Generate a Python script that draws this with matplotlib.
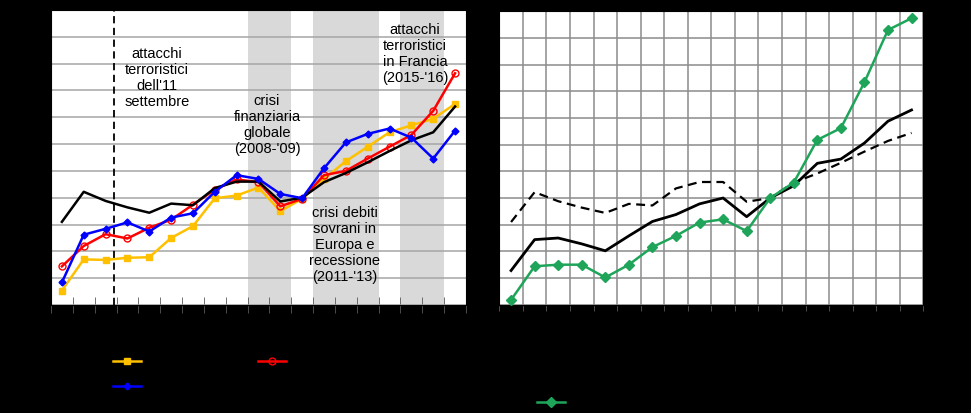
import numpy as np
import matplotlib.pyplot as plt

plt.rcParams['font.family'] = ['Liberation Sans', 'DejaVu Sans']

# data (indices, 2010 = 100)
anni_sx = ["1999", "2000", "2001", "2002", "2003", "2004", "2005", "2006", "2007", "2008",
           "2009", "2010", "2011", "2012", "2013", "2014", "2015", "2016", "2017"]
mondo = [95.5, 101.1, 99.4, 98.2, 97.2, 98.9, 98.6, 101.8, 103.0, 103.0,
         99.3, 100.0, 102.9, 104.6, 106.6, 108.7, 110.7, 112.2, 117.0]
italia = [82.7, 88.5, 88.4, 88.8, 88.9, 92.5, 94.7, 99.9, 100.4, 101.9,
          97.5, 99.8, 103.5, 106.8, 109.5, 112.2, 113.5, 114.7, 117.5]
spagna = [87.2, 91.0, 93.2, 92.4, 94.4, 95.9, 98.7, 101.5, 103.4, 102.9,
          98.4, 99.8, 104.2, 105.0, 107.3, 109.5, 111.7, 116.2, 123.2]
francia = [84.2, 93.1, 94.2, 95.4, 93.7, 96.3, 97.1, 101.1, 104.2, 103.5,
           100.7, 99.9, 105.5, 110.3, 111.9, 112.9, 111.2, 107.3, 112.5]

anni_dx = anni_sx[:18]
totale = [86.4, 92.2, 92.5, 91.4, 90.1, 92.9, 95.6, 96.9, 98.9, 100.0,
          96.5, 100.0, 102.3, 106.5, 107.3, 110.3, 114.4, 116.5]
stranieri = [80.9, 87.2, 87.5, 87.5, 85.1, 87.5, 90.8, 92.9, 95.4, 96.0,
             93.8, 100.0, 102.9, 110.9, 113.1, 121.7, 131.5, 133.7]

# shaded periods and events
crisi = [("2008", "2009"), ("2011", "2013"), ("2015", "2016")]
data_11_settembre = 2001.87

fig = plt.figure(figsize=(9.71, 4.14), dpi=100, facecolor='black')
ax1 = fig.add_axes([0.0525, 0.2609, 0.4274, 0.7126])
ax2 = fig.add_axes([0.5142, 0.2616, 0.4367, 0.7087])

# ---- left panel
x1 = np.arange(len(anni_sx))
for a, b in crisi:
    ax1.axvspan(anni_sx.index(a) - 0.5, anni_sx.index(b) + 0.5, color='#D9D9D9', lw=0, zorder=0.2)
ax1.axvline(data_11_settembre - int(anni_sx[0]) - 0.5, color='black', ls=(0, (4, 2.5)), lw=1.3, zorder=1)

l_it, = ax1.plot(x1, italia, color='#FFC000', lw=1.8, marker='s', ms=4.5, label='Italia', zorder=3)
l_sp, = ax1.plot(x1, spagna, color='#FF0000', lw=1.8, marker='o', ms=5, mfc='none', mew=1,
                 label='Spagna', zorder=3)
l_mo, = ax1.plot(x1, mondo, color='black', lw=1.8, label='Mondo', zorder=3)
l_fr, = ax1.plot(x1, francia, color='#0000FF', lw=1.8, marker='D', ms=3.5, label='Francia', zorder=4)

ax1.set_xlim(-0.5, len(anni_sx) - 0.5)
ax1.set_ylim(80, 135)
ax1.set_yticks(np.arange(80, 136, 5))
ax1.set_xticks(x1)
ax1.set_xticklabels(["'" + a[2:] for a in anni_sx], fontsize=8, color='black')
ax1.set_xticks(np.arange(-0.5, len(anni_sx), 1), minor=True)
ax1.tick_params(axis='x', which='major', length=0)
ax1.tick_params(axis='x', which='minor', direction='inout', length=11, color='#595959')
ax1.tick_params(axis='y', length=0, labelsize=9, labelcolor='black')
ax1.set_axisbelow(True)
ax1.grid(axis='y', color='#A6A6A6', lw=1.1)
for s in ax1.spines.values():
    s.set_color('black')

kw = dict(ha='center', va='center', fontsize=10.5, linespacing=1.18, zorder=5)
ax1.text(4.35, 122.5, "attacchi\nterroristici\ndell'11\nsettembre", **kw)
ax1.text(9.39, 113.8, "crisi\nfinanziaria\nglobale\n(2008-'09)", **kw)
ax1.text(12.96, 91.3, "crisi debiti\nsovrani in\nEuropa e\nrecessione\n(2011-'13)", **kw)
ax1.text(16.17, 126.9, "attacchi\nterroristici\nin Francia\n(2015-'16)", **kw)

# ---- right panel
x2 = np.arange(len(anni_dx))
r_tot, = ax2.plot(x2, totale, color='black', lw=2, label='Italia: presenze totali', zorder=3)
r_mo, = ax2.plot(x2, mondo[:len(anni_dx)], color='black', lw=1.6, ls=(0, (4, 2.5)),
                 label='Mondo: arrivi', zorder=3)
r_st, = ax2.plot(x2, stranieri, color='#1FA55A', lw=1.8, marker='D', ms=5,
                 label='Italia: presenze di stranieri', zorder=4)

ax2.set_xlim(-0.5, len(anni_dx) - 0.5)
ax2.set_ylim(80, 135)
ax2.set_yticks(np.arange(80, 136, 5))
ax2.set_xticks(x2)
ax2.set_xticklabels(["'" + a[2:] for a in anni_dx], fontsize=8, color='black')
ax2.set_xticks(np.arange(-0.5, len(anni_dx), 1), minor=True)
ax2.tick_params(axis='x', which='major', length=0)
ax2.tick_params(axis='x', which='minor', direction='out', length=4, color='#595959')
ax2.tick_params(axis='y', length=0, labelsize=9, labelcolor='black')
ax2.set_axisbelow(True)
ax2.grid(axis='y', color='#8C8C8C', lw=1.1)
ax2.grid(axis='x', which='minor', color='#8C8C8C', lw=1.1)
for s in ax2.spines.values():
    s.set_color('black')

# ---- legends
leg_kw = dict(frameon=False, fontsize=10, borderpad=0, borderaxespad=0, handlelength=2.0,
              labelspacing=0.8, labelcolor='black', loc='center left')
fig.legend(handles=[l_it, l_fr], bbox_to_anchor=(0.1164, 0.0930), **leg_kw)
fig.legend(handles=[l_sp, l_mo], bbox_to_anchor=(0.2657, 0.0930), **leg_kw)
fig.legend(handles=[r_tot, r_mo, r_st], bbox_to_anchor=(0.553, 0.0845), **leg_kw)

plt.savefig("out.png", dpi=100, facecolor='black')
